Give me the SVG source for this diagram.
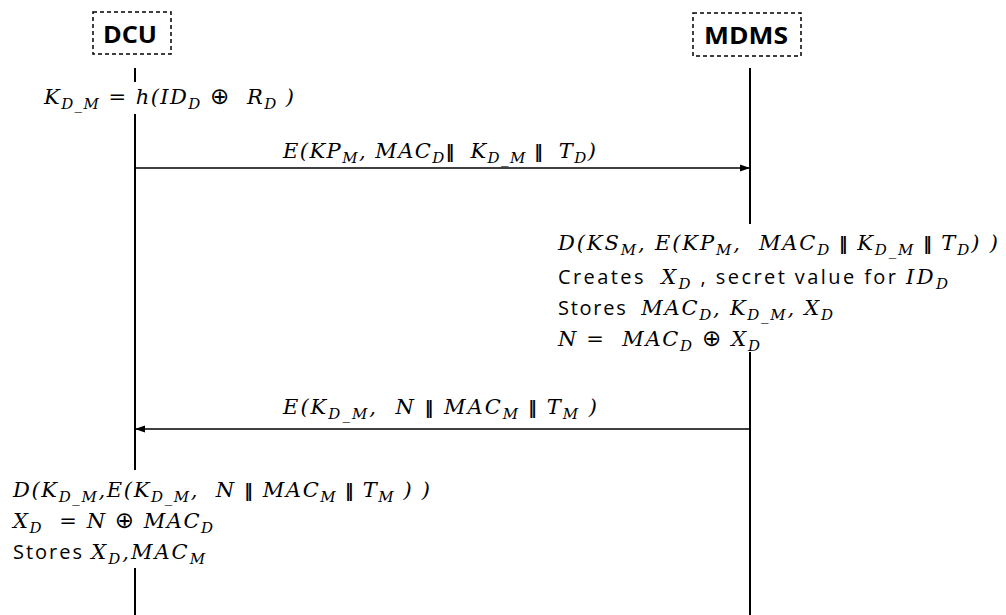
<svg xmlns="http://www.w3.org/2000/svg" width="1006" height="615" viewBox="0 0 1006 615">
<style>
.box{fill:#fff;stroke:#000;stroke-width:1.5;stroke-dasharray:4 3}
.hd{font-family:"Open Sans","Noto Sans",sans-serif;font-weight:bold;font-size:24px;fill:#000}
.life{stroke:#000;stroke-width:2;fill:none}
.msg{stroke:#000;stroke-width:1.5;fill:none}
.m{font-family:"DejaVu Serif",serif;font-style:italic;font-size:21px;fill:#000;white-space:pre}
.s{font-size:15px}
.n{font-family:"Open Sans","Noto Sans",sans-serif;font-style:normal;font-size:20px}
.op{font-family:"DejaVu Sans",sans-serif;font-style:normal;font-size:23px}
.bar{font-family:"DejaVu Sans",sans-serif;font-style:normal;font-weight:bold;font-size:17px}
</style>
<defs>
<marker id="ah" viewBox="0 0 10 10" refX="10" refY="5" markerWidth="10" markerHeight="10" markerUnits="userSpaceOnUse" orient="auto">
<path d="M0,1.5 L10,5 L0,8.5 z" fill="#000"/>
</marker>
</defs>
<g id="dcu">
<rect class="box" x="93" y="12" width="78" height="42"/>
<text class="hd" x="103" y="43" textLength="54" lengthAdjust="spacingAndGlyphs">DCU</text>
</g>
<g id="mdms">
<rect class="box" x="693" y="13" width="108" height="43"/>
<text class="hd" x="704" y="44" textLength="84" lengthAdjust="spacingAndGlyphs">MDMS</text>
</g>
<g id="lifelines">
<line class="life" x1="135" y1="68" x2="135" y2="82"/>
<line class="life" x1="135" y1="114" x2="135" y2="470"/>
<line class="life" x1="135" y1="568" x2="135" y2="615"/>
<line class="life" x1="750" y1="68" x2="750" y2="224"/>
<line class="life" x1="750" y1="352" x2="750" y2="615"/>
</g>
<g id="connectors">
<line class="msg" x1="135" y1="168" x2="750" y2="168" marker-end="url(#ah)"/>
<line class="msg" x1="750" y1="429" x2="135" y2="429" marker-end="url(#ah)"/>
</g>
<g id="dcu-compute1">
<text class="m" x="44" y="104" textLength="250">K<tspan class="s" dy="5">D_M</tspan><tspan dy="-5"> = h(ID</tspan><tspan class="s" dy="5">D</tspan><tspan dy="-5"> </tspan><tspan class="op">⊕</tspan><tspan>  R</tspan><tspan class="s" dy="5">D</tspan><tspan dy="-5"> )</tspan></text>
</g>
<g id="msg1-label">
<text class="m" x="283" y="158" textLength="313">E(KP<tspan class="s" dy="5">M</tspan><tspan dy="-5">, MAC</tspan><tspan class="s" dy="5">D</tspan><tspan dy="-5" class="bar">‖  </tspan><tspan>K</tspan><tspan class="s" dy="5">D_M</tspan><tspan dy="-5" class="bar"> ‖  </tspan><tspan>T</tspan><tspan class="s" dy="5">D</tspan><tspan dy="-5">)</tspan></text>
</g>
<g id="mdms-compute">
<text class="m" x="558" y="250" textLength="440">D(KS<tspan class="s" dy="5">M</tspan><tspan dy="-5">, E(KP</tspan><tspan class="s" dy="5">M</tspan><tspan dy="-5">,  MAC</tspan><tspan class="s" dy="5">D</tspan><tspan dy="-5" class="bar"> ‖ </tspan><tspan>K</tspan><tspan class="s" dy="5">D_M</tspan><tspan dy="-5" class="bar"> ‖ </tspan><tspan>T</tspan><tspan class="s" dy="5">D</tspan><tspan dy="-5">) )</tspan></text>
<text class="m" x="558" y="284" textLength="390"><tspan class="n">Creates  </tspan><tspan>X</tspan><tspan class="s" dy="5">D</tspan><tspan dy="-5" class="n"> , secret value for </tspan><tspan>ID</tspan><tspan class="s" dy="5">D</tspan></text>
<text class="m" x="558" y="315" textLength="275"><tspan class="n">Stores  </tspan><tspan>MAC</tspan><tspan class="s" dy="5">D</tspan><tspan dy="-5">, K</tspan><tspan class="s" dy="5">D_M</tspan><tspan dy="-5">, X</tspan><tspan class="s" dy="5">D</tspan></text>
<text class="m" x="558" y="346" textLength="202">N =  MAC<tspan class="s" dy="5">D</tspan><tspan dy="-5"> </tspan><tspan class="op">⊕</tspan><tspan> X</tspan><tspan class="s" dy="5">D</tspan></text>
</g>
<g id="msg2-label">
<text class="m" x="283" y="414" textLength="314">E(K<tspan class="s" dy="5">D_M</tspan><tspan dy="-5">,  N </tspan><tspan class="bar">‖</tspan><tspan> MAC</tspan><tspan class="s" dy="5">M</tspan><tspan dy="-5" class="bar"> ‖ </tspan><tspan>T</tspan><tspan class="s" dy="5">M</tspan><tspan dy="-5"> )</tspan></text>
</g>
<g id="dcu-compute2">
<text class="m" x="13" y="497" textLength="417">D(K<tspan class="s" dy="5">D_M</tspan><tspan dy="-5">,E(K</tspan><tspan class="s" dy="5">D_M</tspan><tspan dy="-5">,  N </tspan><tspan class="bar">‖</tspan><tspan> MAC</tspan><tspan class="s" dy="5">M</tspan><tspan dy="-5" class="bar"> ‖ </tspan><tspan>T</tspan><tspan class="s" dy="5">M</tspan><tspan dy="-5"> ) )</tspan></text>
<text class="m" x="13" y="528" textLength="200">X<tspan class="s" dy="5">D</tspan><tspan dy="-5">  = N </tspan><tspan class="op">⊕</tspan><tspan> MAC</tspan><tspan class="s" dy="5">D</tspan></text>
<text class="m" x="13" y="559" textLength="192"><tspan class="n">Stores </tspan><tspan>X</tspan><tspan class="s" dy="5">D</tspan><tspan dy="-5">,MAC</tspan><tspan class="s" dy="5">M</tspan></text>
</g>
</svg>
